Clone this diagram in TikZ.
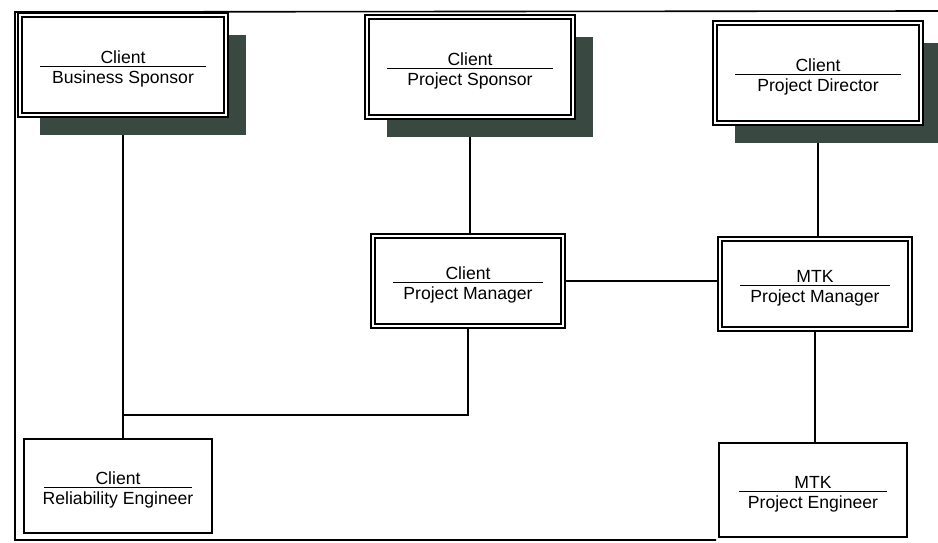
\documentclass[tikz,border=0pt]{standalone}
\usepackage{fontspec}
\setmainfont{Liberation Sans}
\usetikzlibrary{shadows,backgrounds}
\definecolor{shadowgrey}{RGB}{58,72,66}
% two-line role text: organisation over title
\newcommand{\rolename}[2]{\rule{0pt}{10.5pt}#1\\#2\rule[-2.5pt]{0pt}{2.5pt}}

\begin{document}
\begin{tikzpicture}[x=0.5pt, y=-0.5pt,
  every node/.style={font=\fontsize{8.8}{10}\selectfont},
  role/.style={draw, fill=white, align=center, inner sep=0pt,
    path picture={\draw[line width=0.7pt] ([xshift=10pt,yshift=-0.6pt]path picture bounding box.west)
      -- ([xshift=-10pt,yshift=-0.6pt]path picture bounding box.east);}},
  dbl/.style={role, double, line width=0.8pt, double distance=1.3pt},
  topbox/.style={dbl, minimum width=103pt, minimum height=50pt,
    drop shadow={shadow xshift=10pt, shadow yshift=-10pt, fill=shadowgrey, opacity=1}},
  midbox/.style={dbl, minimum width=95pt, minimum height=45pt},
  lowbox/.style={role, line width=0.7pt, minimum width=94pt, minimum height=47pt},
  link/.style={draw, line width=0.6pt}]

  \useasboundingbox (0,0) rectangle (938,542);

  % Page frame
  \draw[line width=0.8pt] (938,11) -- (15,12) -- (15,540) -- (716,540);

  % Top row: sponsors and director
  \node[topbox] (bs) at (123,65) {\rolename{Client}{Business Sponsor}};
  \node[topbox] (ps) at (470,67) {\rolename{Client}{Project Sponsor}};
  \node[topbox] (pd) at (818,73) {\rolename{Client}{Project Director}};

  % Middle row: project managers
  \node[midbox] (cpm) at (468,281) {\rolename{Client}{Project Manager}};
  \node[midbox] (mpm) at (815,284) {\rolename{MTK}{Project Manager}};

  % Bottom row: engineers
  \node[lowbox] (rel) at (118,486) {\rolename{Client}{Reliability Engineer}};
  \node[lowbox] (pe) at (813,490) {\rolename{MTK}{Project Engineer}};

  % Reporting lines
  \begin{scope}[on background layer]
    \coordinate (tee) at (bs.south |- 0,415);
    \draw[link] (bs.south) -- (bs.south |- rel.north);
    \draw[link] (cpm.south) |- (tee);
    \draw[link] (ps.south) -- (ps.south |- cpm.north);
    \draw[link] (cpm.east) -- (cpm.east -| mpm.west);
    \draw[link] (pd.south) -- (pd.south |- mpm.north);
    \draw[link] (mpm.south) -- (mpm.south |- pe.north);
  \end{scope}
\end{tikzpicture}
\end{document}
